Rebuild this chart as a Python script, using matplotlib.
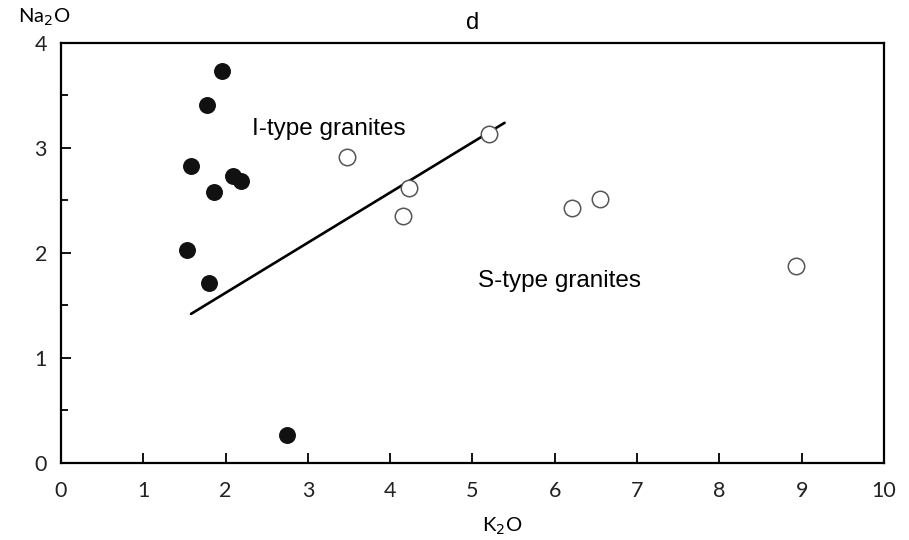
import numpy as np
import matplotlib
matplotlib.use("Agg")
import matplotlib.pyplot as plt
from matplotlib.ticker import MultipleLocator

# I-type granites (filled)
i_k2o = [1.96, 1.77, 1.58, 2.09, 2.19, 1.86, 1.53, 1.80, 2.75]
i_na2o = [3.73, 3.41, 2.83, 2.73, 2.69, 2.58, 2.03, 1.71, 0.27]

# S-type granites (open)
s_k2o = [3.47, 4.23, 4.15, 5.20, 6.21, 6.55, 8.93]
s_na2o = [2.91, 2.62, 2.35, 3.13, 2.43, 2.51, 1.88]

# discrimination line
line_k2o = [1.58, 5.39]
line_na2o = [1.42, 3.24]

xticks = [0, 1, 2, 3, 4, 5, 6, 7, 8, 9, 10]
yticks = [0, 1, 2, 3, 4]

tick_font = 'Lato'
ann_font = 'Liberation Sans'

fig = plt.figure(figsize=(9.09, 5.40), dpi=100)
ax = fig.add_axes([0.0671, 0.1426, 0.9054, 0.7778])

ax.plot(line_k2o, line_na2o, color='black', lw=1.9, solid_capstyle='round', zorder=2)
ax.scatter(i_k2o, i_na2o, s=125, color='#111111', edgecolor='#111111', zorder=3)
ax.scatter(s_k2o, s_na2o, s=140, facecolor='white', edgecolor='#555555', lw=1.1, zorder=3)

ax.set_xlim(0, 10)
ax.set_ylim(0, 4)
ax.set_xticks(xticks)
ax.set_yticks(yticks)
ax.yaxis.set_minor_locator(MultipleLocator(0.5))
ax.tick_params(axis='both', which='major', direction='in', length=7.5, width=1.3,
               top=False, right=False, labelsize=15.5)
ax.tick_params(axis='x', which='major', pad=13)
ax.tick_params(axis='y', which='major', pad=10)
ax.tick_params(axis='y', which='minor', direction='in', length=5, width=1.3, right=False)
for lab in ax.get_xticklabels() + ax.get_yticklabels():
    lab.set_fontfamily(tick_font)
    lab.set_color('#222222')
for sp in ax.spines.values():
    sp.set_linewidth(1.6)

ax.set_title('d', fontsize=17, family=ann_font, pad=10)
ax.text(2.32, 3.18, 'I-type granites', fontsize=17.5, family=ann_font, va='center', ha='left')
ax.text(5.07, 1.73, 'S-type granites', fontsize=17.5, family=ann_font, va='center', ha='left')

fig.text(44 / 909, 1 - 17 / 540, 'Na$_2$O', fontsize=14.5, family=tick_font, ha='center', va='center')
fig.text(502 / 909, 1 - 526 / 540, 'K$_2$O', fontsize=14.5, family=tick_font, ha='center', va='center')

fig.savefig('out.png', dpi=100)
